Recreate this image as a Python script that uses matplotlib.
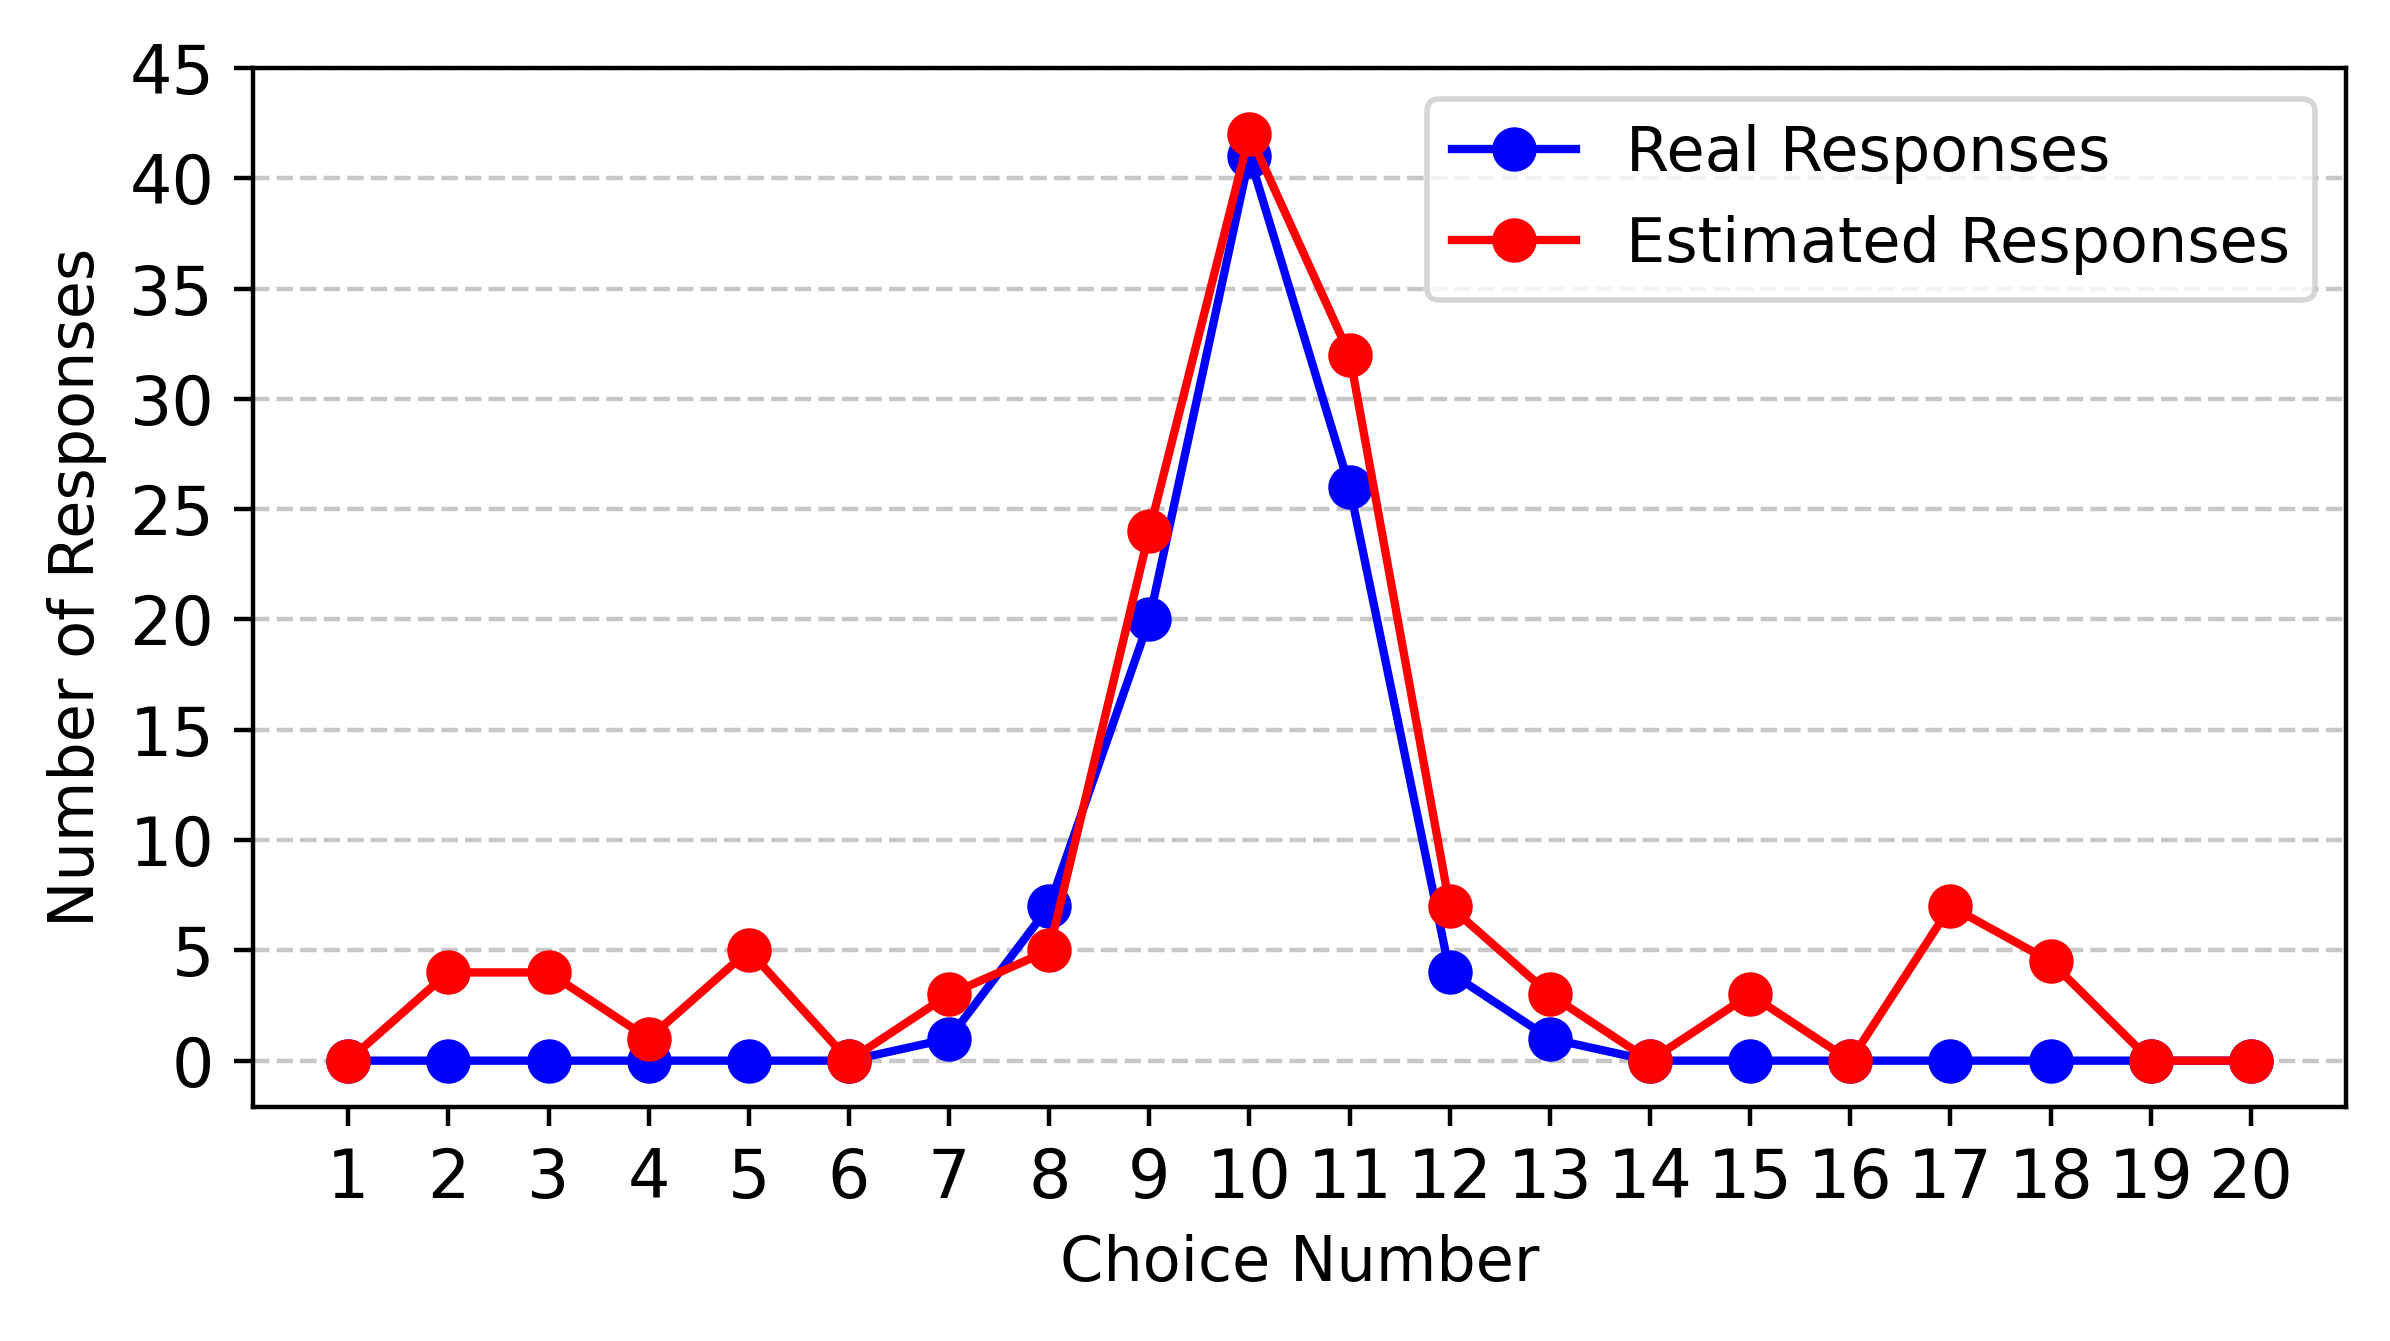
import numpy as np
import matplotlib.pyplot as plt

plt.rcParams['font.size'] = 12

choices = list(range(1, 21))
real = [0, 0, 0, 0, 0, 0, 1, 7, 20, 41, 26, 4, 1, 0, 0, 0, 0, 0, 0, 0]
estimated = [0, 4, 4, 1, 5, 0, 3, 5, 24, 42, 32, 7, 3, 0, 3, 0, 7, 4.5, 0, 0]

fig = plt.figure(figsize=(5.975, 3.3525))
ax = fig.add_axes([0.1059, 0.1745, 0.9816 - 0.1059, 0.9493 - 0.1745])
ax.plot(choices, real, marker='o', color='blue', markersize=7, label='Real Responses')
ax.plot(choices, estimated, marker='o', color='red', markersize=7, label='Estimated Responses')

ax.set_xlabel('Choice Number', fontsize=11.2)
ax.set_ylabel('Number of Responses', fontsize=11.2)
ax.set_xticks(choices)
ax.set_yticks(range(0, 46, 5))
ax.set_ylim(-2.1, 45)
ax.grid(axis='y', linestyle='--', alpha=0.7)
ax.legend(loc='upper right', fontsize=11.2)

plt.savefig('out.png', dpi=400)
